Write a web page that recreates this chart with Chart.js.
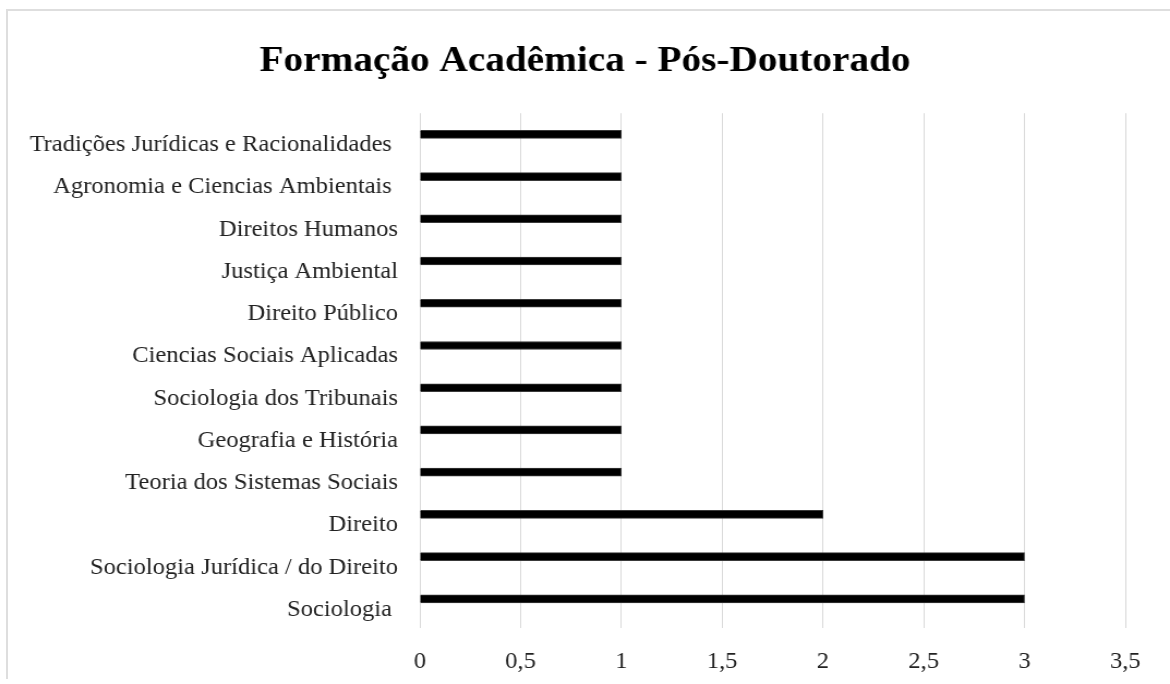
<!DOCTYPE html>
<html lang="pt">
<head>
<meta charset="utf-8">
<title>Formação Acadêmica - Pós-Doutorado</title>
<script src="https://cdn.jsdelivr.net/npm/chart.js@4.4.1/dist/chart.umd.min.js"></script>
<style>
  html, body { margin: 0; padding: 0; background: #fff; overflow: hidden; width: 1170px; height: 684px; }
  .frame {
    position: absolute; left: 6px; top: 9px; width: 1200px; height: 668px;
    border-top: 2px solid #dedede; border-left: 2px solid #dedede;
  }
  /* the source picture is slightly stretched horizontally */
  .wrap {
    position: absolute; left: 0; top: 0; width: 1073px; height: 700px;
    transform: scaleX(1.0904); transform-origin: 0 0;
  }
</style>
</head>
<body>
<div class="frame"></div>
<div class="wrap"><canvas id="posDocChart"></canvas></div>
<script>
// categorias, de cima para baixo
const areas = [
    'Tradições Jurídicas e Racionalidades ',
    'Agronomia e Ciencias Ambientais ',
    'Direitos Humanos',
    'Justiça Ambiental',
    'Direito Público',
    'Ciencias Sociais Aplicadas',
    'Sociologia dos Tribunais',
    'Geografia e História',
    'Teoria dos Sistemas Sociais',
    'Direito',
    'Sociologia Jurídica / do Direito',
    'Sociologia '
];
const quantidade = [1, 1, 1, 1, 1, 1, 1, 1, 1, 2, 3, 3];
const xMin = 0;
const xMax = 3.5;
const xStep = 0.5;

document.addEventListener('DOMContentLoaded', function () {
    const ctx = document.getElementById('posDocChart').getContext('2d');
    const serif = "'Liberation Serif', 'Times New Roman', serif";

    // long category names need the room left of the axis box, otherwise they get clipped
    const labelRoom = {
        id: 'labelRoom',
        afterLayout: function (chart) { chart.scales.y.left = 0; }
    };

    new Chart(ctx, {
        type: 'bar',
        data: {
            labels: areas,
            datasets: [{
                label: 'Pós-Doutorado',
                data: quantidade,
                backgroundColor: '#000000',
                borderColor: '#3a3a3a',
                borderWidth: 1,
                barThickness: 8
            }]
        },
        options: {
            indexAxis: 'y',
            responsive: true,
            maintainAspectRatio: false,
            animation: false,
            layout: { padding: { top: 40, right: 41, bottom: 3, left: 41 } },
            plugins: {
                legend: { display: false },
                tooltip: { enabled: false },
                title: {
                    display: true,
                    text: 'Formação Acadêmica - Pós-Doutorado',
                    color: '#000',
                    font: { family: serif, size: 36, weight: 'bold' },
                    padding: { top: 0, bottom: 30 }
                }
            },
            scales: {
                x: {
                    min: xMin,
                    max: xMax,
                    grid: { color: '#d9d9d9', tickColor: '#d9d9d9', tickLength: 8 },
                    border: { display: false },
                    ticks: {
                        stepSize: xStep,
                        padding: 21,
                        color: '#222',
                        font: { family: serif, size: 22.5 },
                        callback: function (v) { return String(v).replace('.', ','); }
                    }
                },
                y: {
                    grid: { display: false, drawTicks: false },
                    border: { display: false },
                    afterFit: function (scale) { scale.width = 344; },
                    ticks: {
                        padding: 20,
                        labelOffset: 11,
                        color: '#222',
                        font: { family: serif, size: 22.5 }
                    }
                }
            }
        },
        plugins: [labelRoom]
    });
});
</script>
</body>
</html>
